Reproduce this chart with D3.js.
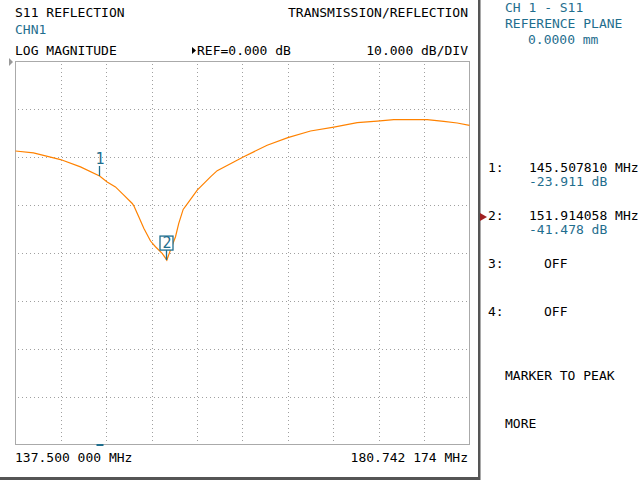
<!DOCTYPE html>
<html>
<head>
<meta charset="utf-8">
<script src="https://cdn.jsdelivr.net/npm/d3@7"></script>
<style>
html,body{margin:0;padding:0;background:#fff;}
svg{display:block;}
text{font-family:"DejaVu Sans Mono",monospace;font-size:13px;}
</style>
</head>
<body>
<svg id="chart" width="640" height="480"></svg>
<script>
// ---- data ----
const freqMHz = [137.5, 139.21, 141.79, 143.69, 145.508, 146.23, 147.02, 147.82, 148.62, 148.77,
  149.24, 149.72, 150.36, 150.83, 151.47, 151.914, 152.26, 152.74, 153.05, 153.47, 154.0,
  154.81, 156.07, 156.71, 158.29, 159.19, 161.47, 163.44, 165.6, 167.82, 170.05, 171.95,
  173.53, 176.71, 178.29, 179.57, 180.742];
const s11dB = [-18.69, -19.1, -20.48, -22.02, -23.911, -25.15, -26.19, -27.92, -29.65, -30.15,
  -32.44, -34.85, -37.5, -38.69, -40.06, -41.478, -39.38, -36.6, -33.81, -30.9, -29.31,
  -26.88, -24.1, -22.8, -20.98, -19.94, -17.5, -15.9, -14.52, -13.69, -12.77, -12.44,
  -12.15, -12.15, -12.5, -12.85, -13.33];
const markerIds = ["1", "2"];
const markerFreq = [145.507810, 151.914058];
const markerDb = [-23.911, -41.478];
const startLabel = "137.500 000 MHz";
const stopLabel = "180.742 174 MHz";
const xDomain = [137.5, 180.742174];
const yDomain = [-80, 0];
const xDivs = 10;
const yTicks = [-70, -60, -50, -40, -30, -20, -10];

// ---- drawing ----
const svg = d3.select("#chart");
const blue = "#1f6e8e", orange = "#ff8200", grid = "#a0a0a0";
const x = d3.scaleLinear().domain(xDomain).range([15.5, 469.5]);
const y = d3.scaleLinear().domain(yDomain).range([444.5, 61.5]);

svg.append("rect").attr("width", 640).attr("height", 480).attr("fill", "#fff");

// grid (dotted)
const gx = d3.range(1, xDivs).map(i => xDomain[0] + i * (xDomain[1] - xDomain[0]) / xDivs);
svg.append("g").selectAll("line").data(gx).join("line")
  .attr("x1", d => Math.round(x(d)) + 0.5).attr("x2", d => Math.round(x(d)) + 0.5)
  .attr("y1", 64).attr("y2", 444)
  .attr("stroke", grid).attr("stroke-dasharray", "1,3");
svg.append("g").selectAll("line").data(yTicks).join("line")
  .attr("y1", d => Math.round(y(d)) + 0.5).attr("y2", d => Math.round(y(d)) + 0.5)
  .attr("x1", 18).attr("x2", 469)
  .attr("stroke", grid).attr("stroke-dasharray", "1,3");

// plot border
svg.append("rect").attr("x", 15.5).attr("y", 61.5).attr("width", 454).attr("height", 383)
  .attr("fill", "none").attr("stroke", "#aaaaaa");

// outer dark frame
svg.append("rect").attr("x", 478).attr("y", 0).attr("width", 2.5).attr("height", 480).attr("fill", "#555");
svg.append("rect").attr("x", 0).attr("y", 477).attr("width", 480).attr("height", 3).attr("fill", "#555");

// ref arrow at left
const yr = Math.round(y(0));
svg.append("path").attr("d", `M9,${yr - 4}L13,${yr}L9,${yr + 4}Z`).attr("fill", "#999");

// trace
const line = d3.line().x((d, i) => x(freqMHz[i])).y(d => y(d));
svg.append("path").datum(s11dB).attr("d", line)
  .attr("fill", "none").attr("stroke", orange).attr("stroke-width", 1.2);

// markers
markerIds.forEach((id, i) => {
  const mx = Math.round(x(markerFreq[i])) - 0.5, my = y(markerDb[i]);
  svg.append("line").attr("x1", mx).attr("x2", mx).attr("y1", my - 10).attr("y2", my)
    .attr("stroke", blue).attr("stroke-width", 1.3);
  if (i === 1) {
    svg.append("rect").attr("x", mx - 6.5).attr("y", my - 24).attr("width", 13).attr("height", 14)
      .attr("fill", "#fff").attr("stroke", blue).attr("stroke-width", 1.3);
  }
  svg.append("text").attr("x", mx + 0.5).attr("y", my - 12)
    .attr("text-anchor", "middle").attr("fill", blue)
    .style("font-size", "15px").text(id);
});
// marker indicator on bottom edge
svg.append("rect").attr("x", Math.round(x(markerFreq[0])) - 3.5).attr("y", 444).attr("width", 7).attr("height", 2).attr("fill", blue);

// header texts
function txt(tx, ty, s, anchor, color) {
  svg.append("text").attr("x", tx).attr("y", ty).attr("text-anchor", anchor || "start")
    .attr("fill", color || "#000").text(s);
}
txt(15, 17, "S11 REFLECTION");
txt(468, 17, "TRANSMISSION/REFLECTION", "end");
txt(15, 34, "CHN1", "start", blue);
txt(15, 55, "LOG MAGNITUDE");
svg.append("path").attr("d", "M192,47L196,50.5L192,54Z").attr("fill", "#000");
txt(197, 55, "REF=0.000 dB");
txt(468, 55, "10.000 dB/DIV", "end");
txt(15, 462, startLabel);
txt(468, 462, stopLabel, "end");

// right panel
txt(505, 12, "CH 1 - S11", "start", blue);
txt(505, 28, "REFERENCE PLANE", "start", blue);
txt(528, 44, "0.0000 mm", "start", blue);

const mLines = [
  {n: "1:", f: "145.507810 MHz", v: "-23.911 dB", yb: 172},
  {n: "2:", f: "151.914058 MHz", v: "-41.478 dB", yb: 220}
];
mLines.forEach(m => {
  txt(488, m.yb, m.n);
  txt(529, m.yb, m.f);
  txt(529, m.yb + 14, m.v, "start", blue);
});
txt(488, 268, "3:");
txt(544, 268, "OFF");
txt(488, 316, "4:");
txt(544, 316, "OFF");
svg.append("path").attr("d", "M480,213L487,217L480,221Z").attr("fill", "#a02020");

txt(505, 380, "MARKER TO PEAK");
txt(505, 428, "MORE");
</script>
</body>
</html>
